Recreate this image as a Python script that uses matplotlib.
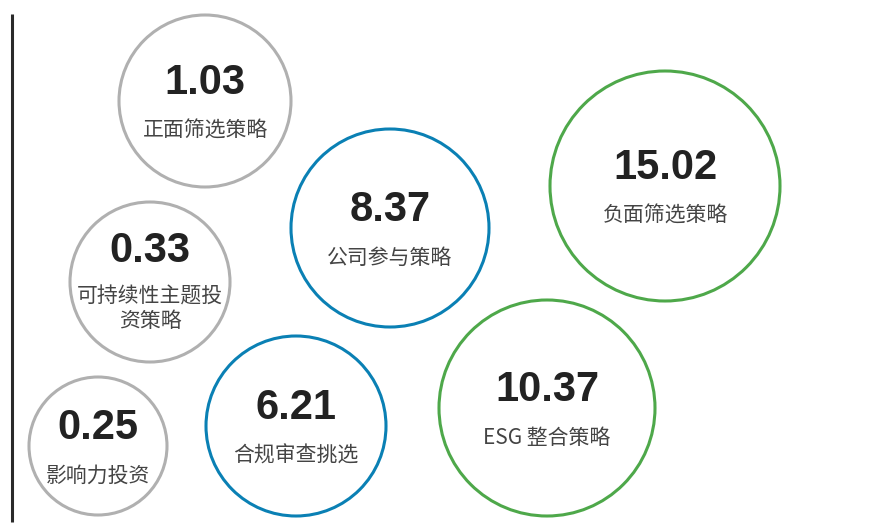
import matplotlib
matplotlib.use("Agg")
import matplotlib.pyplot as plt
from matplotlib.patches import Circle

plt.rcParams['font.family'] = ['Noto Sans CJK SC', 'DejaVu Sans']

# data
labels = ['正面筛选策略', '公司参与策略', '负面筛选策略', '可持续性主题投\n资策略',
          '合规审查挑选', 'ESG 整合策略', '影响力投资']
values = [1.03, 8.37, 15.02, 0.33, 6.21, 10.37, 0.25]
groups = ['gray', 'blue', 'green', 'gray', 'blue', 'green', 'gray']

# layout (pixel space) of the bubbles
cx = [205, 390, 665, 150, 296, 547, 98]
cy = [101, 228, 186, 282, 426, 408, 446]
rad = [86, 99, 115, 80, 90, 108, 69]

colors = {'gray': '#b0b0b0', 'blue': '#0a80b4', 'green': '#4ea84a'}

W, H = 889, 524
fig = plt.figure(figsize=(W/100, H/100), dpi=100)
ax = fig.add_axes([0, 0, 1, 1])
ax.set_xlim(0, W)
ax.set_ylim(H, 0)
ax.set_aspect('equal')
ax.axis('off')

# left rule
ax.plot([12, 12], [14, 522], color='#2a2a2a', lw=2.2, solid_capstyle='butt')

for lab, v, g, x, y, r in zip(labels, values, groups, cx, cy, rad):
    ax.add_patch(Circle((x, y), r, facecolor='white', edgecolor=colors[g], lw=2.2))
    n = lab.count('\n') + 1
    ax.text(x, y - 18 - 13 * (n - 1), f'{v:.2f}', ha='center', va='center',
            fontsize=30, fontweight='bold', family=['Liberation Sans', 'DejaVu Sans'],
            color='#222222')
    ax.text(x, y + 30 - 3 * (n - 1), lab, ha='center', va='center', fontsize=15,
            color='#444444', linespacing=1.15, fontweight='light')

fig.savefig('out.png', dpi=100, facecolor='white')
